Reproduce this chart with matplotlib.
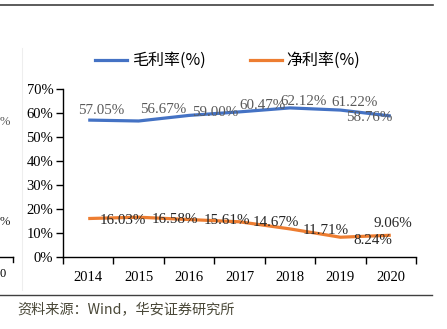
import matplotlib.pyplot as plt
from matplotlib.lines import Line2D

plt.rcParams['font.family'] = ['Liberation Serif', 'Noto Sans CJK SC', 'DejaVu Sans']

years = ['2014', '2015', '2016', '2017', '2018', '2019', '2020']
gross_margin = [57.05, 56.67, 59.00, 60.47, 62.12, 61.22, 58.76]
net_margin = [16.03, 16.58, 15.61, 14.67, 11.71, 8.24, 9.06]
y_ticks = [0, 10, 20, 30, 40, 50, 60, 70]

# label offsets in pixels (dx, dy) from each point
gross_offsets = [(13, 10), (25, 11), (26, 3), (23, 6), (14, 6), (14, 8), (-22, -2)]
net_offsets = [(35, -2), (36, -2), (38, -1), (36, -1), (36, -2), (32, -3), (2, 12)]

W, H = 447, 329
fig = plt.figure(figsize=(W / 100, H / 100), dpi=100)


def px(x, y):
    return x / W, 1 - y / H


# plot area
ax = fig.add_axes([63 / W, (H - 257) / H, (416 - 63) / W, (257 - 89) / H])
x = list(range(len(years)))
ax.plot(x, gross_margin, color='#4472C4', linewidth=2.3, solid_capstyle='butt')
ax.plot(x, net_margin, color='#ED7D31', linewidth=2.3, solid_capstyle='butt')

for i, v in enumerate(gross_margin):
    dx, dy = gross_offsets[i]
    ax.annotate(f'{v:.2f}%', (i, v), xytext=(dx, dy), textcoords='offset pixels',
                ha='center', va='center', fontsize=10.8, color='#595959')
for i, v in enumerate(net_margin):
    dx, dy = net_offsets[i]
    ax.annotate(f'{v:.2f}%', (i, v), xytext=(dx, dy), textcoords='offset pixels',
                ha='center', va='center', fontsize=10.8, color='#262626')

ax.set_xlim(-0.5, len(years) - 0.5)
ax.set_ylim(0, 70)
ax.set_yticks(y_ticks)
ax.set_yticklabels([f'{t}%' for t in y_ticks])
ax.set_xticks([i - 0.5 for i in range(len(years) + 1)])
ax.set_xticklabels([])
ax.set_xticks(x, minor=True)
ax.set_xticklabels(years, minor=True)
ax.tick_params(axis='x', which='major', direction='out', length=5, width=1, color='#000000')
ax.tick_params(axis='x', which='minor', length=0, pad=10, labelsize=10.5)
ax.tick_params(axis='y', direction='out', length=5, width=1, labelsize=10.5, pad=2)
for side in ['top', 'right']:
    ax.spines[side].set_visible(False)
for side in ['left', 'bottom']:
    ax.spines[side].set_linewidth(1)
    ax.spines[side].set_color('#000000')

# legend
fig.add_artist(Line2D([95 / W, 127 / W], [1 - 60 / H] * 2, color='#4472C4', linewidth=2.3))
fig.text(*px(132, 60), '毛利率(%)', fontsize=11.5, va='center', ha='left',
         family=['Noto Sans CJK SC', 'Liberation Serif'])
fig.add_artist(Line2D([250 / W, 282 / W], [1 - 60 / H] * 2, color='#ED7D31', linewidth=2.3))
fig.text(*px(286, 60), '净利率(%)', fontsize=11.5, va='center', ha='left',
         family=['Noto Sans CJK SC', 'Liberation Serif'])

# frame lines and neighbouring chart edge
fig.add_artist(Line2D([0, 433 / W], [1 - 5 / H] * 2, color='#404040', linewidth=1.2))
fig.add_artist(Line2D([0, 432 / W], [1 - 295 / H] * 2, color='#404040', linewidth=1.0))
fig.add_artist(Line2D([22 / W, 22 / W], [1 - 290 / H, 1 - 48 / H], color='#eeeeee', linewidth=0.8))
fig.add_artist(Line2D([0, 13 / W], [1 - 257 / H] * 2, color='#000000', linewidth=1))
fig.add_artist(Line2D([13 / W, 13 / W], [1 - 257 / H, 1 - 262 / H], color='#000000', linewidth=1))
fig.text(*px(0, 122), '%', fontsize=9, va='center', ha='left', color='#595959')
fig.text(*px(0, 222), '%', fontsize=9, va='center', ha='left', color='#262626')
fig.text(*px(0, 274), '0', fontsize=9, va='center', ha='left')

# source note
fig.text(*px(17, 310), '资料来源：Wind，华安证券研究所', fontsize=10.2, va='center', ha='left',
         color='#4a4838', family=['Noto Sans CJK SC', 'Liberation Serif'])

fig.savefig('out.png', dpi=100)
